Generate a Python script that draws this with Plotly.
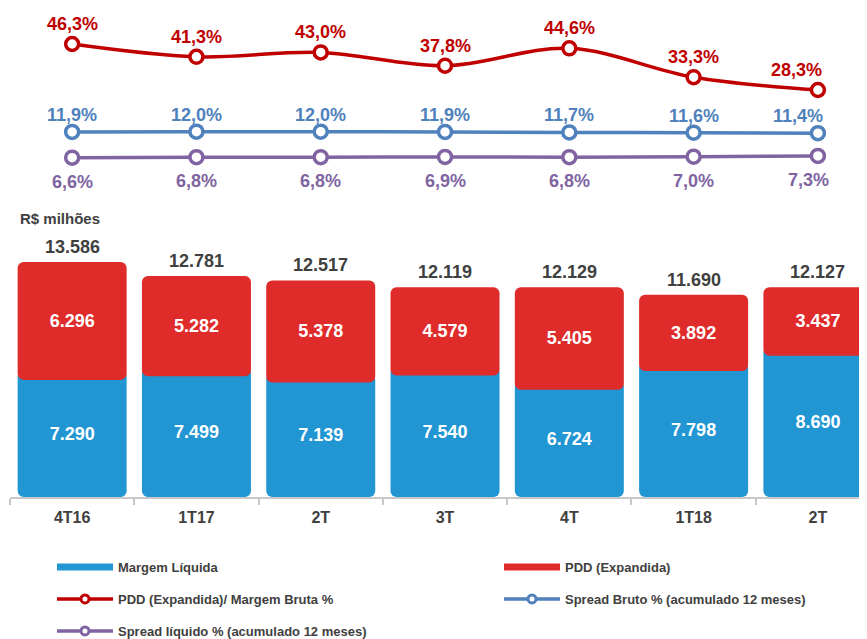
import plotly.graph_objects as go

# ---------------- data ----------------
cat_keys = ["4T16", "1T17", "2T17", "3T17", "4T17", "1T18", "2T18"]
tick_labels = ["4T16", "1T17", "2T", "3T", "4T", "1T18", "2T"]

margem_liquida = [7290, 7499, 7139, 7540, 6724, 7798, 8690]
pdd_expandida = [6296, 5282, 5378, 4579, 5405, 3892, 3437]
totais = [13586, 12781, 12517, 12119, 12129, 11690, 12127]

pdd_margem_bruta = [46.3, 41.3, 43.0, 37.8, 44.6, 33.3, 28.3]
spread_bruto = [11.9, 12.0, 12.0, 11.9, 11.7, 11.6, 11.4]
spread_liquido = [6.6, 6.8, 6.8, 6.9, 6.8, 7.0, 7.3]

# ---------------- style ----------------
OFF = 8                      # page body margin of the html page
W, H = 867 - OFF, 639 - OFF
FONT = "Liberation Sans, Arial, sans-serif"
BLUE_BAR = "#2196D3"
RED_BAR = "#E02B2B"
RED = "#C00000"
BLUE = "#4F81BD"
PURPLE = "#8064A2"
DARK = "#404040"
OVERLAP = 520  # red block visually overlaps the blue block (rounded box look)


def fmt_int(v):
    return f"{v:,}".replace(",", ".")


def fmt_pct(v):
    return f"{v:.1f}%".replace(".", ",")


def py(wpx):
    """window pixel y -> paper fraction"""
    return 1 - (wpx - OFF) / H


def px(wpx):
    """window pixel x -> paper fraction"""
    return (wpx - OFF) / W


fig = go.Figure()

# bars
fig.add_trace(go.Bar(
    x=cat_keys, y=margem_liquida, base=0,
    marker=dict(color=BLUE_BAR, line=dict(width=0)),
    text=[fmt_int(v) for v in margem_liquida], textposition="inside",
    insidetextanchor="middle",
    textfont=dict(family=FONT, size=18, color="white", weight="bold"),
    showlegend=False, xaxis="x", yaxis="y",
))
fig.add_trace(go.Bar(
    x=cat_keys, y=[p + OVERLAP for p in pdd_expandida],
    base=[m - OVERLAP for m in margem_liquida],
    marker=dict(color=RED_BAR, line=dict(width=0)),
    text=[fmt_int(v) for v in pdd_expandida], textposition="inside",
    insidetextanchor="middle",
    textfont=dict(family=FONT, size=18, color="white", weight="bold"),
    showlegend=False, xaxis="x", yaxis="y",
))

# lines
line_specs = [
    (pdd_margem_bruta, RED, "y2", "PDD (Expandida)/ Margem Bruta %", "legend3", 1.0),
    (spread_bruto, BLUE, "y2", "Spread Bruto % (acumulado 12 meses)", "legend4", 0.6),
    (spread_liquido, PURPLE, "y3", "Spread líquido % (acumulado 12 meses)", "legend5", 0.6),
]
for vals, col, yax, name, leg, sm in line_specs:
    fig.add_trace(go.Scatter(
        x=cat_keys, y=vals, mode="lines+markers", name=name,
        line=dict(color=col, width=3.5, shape="spline", smoothing=sm),
        marker=dict(symbol="circle", size=13, color="white",
                    line=dict(color=col, width=3.5)),
        xaxis="x", yaxis=yax, showlegend=False, cliponaxis=False,
    ))
    # legend proxy with smaller marker
    fig.add_trace(go.Scatter(
        x=[None], y=[None], mode="lines+markers", name=name,
        line=dict(color=col, width=3.5),
        marker=dict(symbol="circle", size=8, color="white",
                    line=dict(color=col, width=3)),
        xaxis="x", yaxis=yax, legend=leg,
    ))

# legend proxies for the bars
fig.add_trace(go.Scatter(x=[None], y=[None], mode="lines", name="Margem Líquida",
                         line=dict(color=BLUE_BAR, width=7), legend="legend"))
fig.add_trace(go.Scatter(x=[None], y=[None], mode="lines", name="PDD (Expandida)",
                         line=dict(color=RED_BAR, width=7), legend="legend2"))

annotations = []
# totals above bars
for k, t in zip(cat_keys, totais):
    annotations.append(dict(x=k, y=t, xref="x", yref="y", text=fmt_int(t),
                            showarrow=False, yanchor="middle", yshift=15,
                            font=dict(family=FONT, size=18, color=DARK, weight="bold")))
# line labels
n = len(cat_keys)
for vals, col, yref, yshift, last_x in [
    (pdd_margem_bruta, RED, "y2", 20, -21),
    (spread_bruto, BLUE, "y2", 17, -20),
    (spread_liquido, PURPLE, "y3", -24, -9),
]:
    for i, (k, v) in enumerate(zip(cat_keys, vals)):
        annotations.append(dict(x=k, y=v, xref="x", yref=yref, text=fmt_pct(v),
                                showarrow=False, yanchor="middle", yshift=yshift,
                                xshift=last_x if i == n - 1 else 0,
                                font=dict(family=FONT, size=18, color=col, weight="bold")))
annotations.append(dict(x=px(18), y=py(218), xref="paper", yref="paper",
                        text="R$ milhões", showarrow=False, xanchor="left",
                        yanchor="middle",
                        font=dict(family=FONT, size=15, color=DARK, weight="bold")))

leg_font = dict(family=FONT, size=13, color=DARK, weight="bold")


def leg(text_x, ypx):
    return dict(x=px(text_x - 66), y=py(ypx), xanchor="left", yanchor="middle",
                bgcolor="rgba(0,0,0,0)", font=leg_font, itemwidth=56,
                orientation="h")


K_BAR = 0.0173  # px per unit
K_LINE = 2.556  # px per percentage point

fig.update_layout(
    width=W, height=H,
    margin=dict(l=0, r=0, t=0, b=0, autoexpand=False),
    paper_bgcolor="white", plot_bgcolor="white",
    barmode="overlay", bargap=0.123, barcornerradius=6,
    font=dict(family=FONT, color=DARK),
    xaxis=dict(type="category", categoryorder="array", categoryarray=cat_keys,
               range=[-0.5, 6.395], domain=[px(10), 1], anchor="y",
               tickmode="array", tickvals=cat_keys, ticktext=tick_labels,
               tickson="boundaries", ticks="outside", ticklen=6, tickwidth=2,
               tickcolor="#C8C8C8", showline=True, linecolor="#C8C8C8", linewidth=2,
               showgrid=False, zeroline=False, ticklabelstandoff=5,
               tickfont=dict(family=FONT, size=16, color=DARK, weight="bold")),
    yaxis=dict(domain=[py(497), py(240)], range=[0, (497 - 240) / K_BAR],
               visible=False, showgrid=False, zeroline=False),
    yaxis2=dict(domain=[py(200), 1],
                range=[46.3 - (200 - 44) / K_LINE, 46.3 + (44 - OFF) / K_LINE],
                visible=False, anchor="x", showgrid=False, zeroline=False),
    yaxis3=dict(domain=[py(200), 1],
                range=[6.6 - (200 - 157.7) / K_LINE, 6.6 + (157.7 - OFF) / K_LINE],
                visible=False, overlaying="y2", anchor="x",
                showgrid=False, zeroline=False),
    annotations=annotations,
    legend=leg(118, 567),
    legend2=leg(565, 567),
    legend3=leg(118, 599),
    legend4=leg(565, 599),
    legend5=leg(118, 631),
)

fig.write_html("out.html")
